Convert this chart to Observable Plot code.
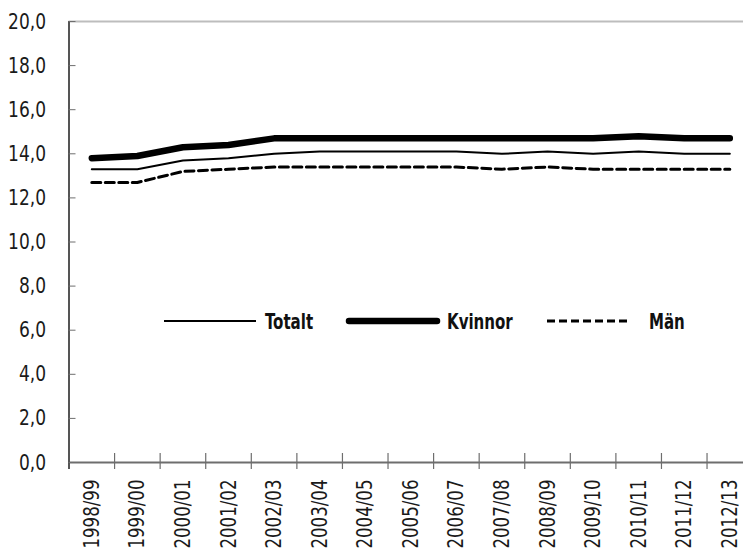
<!DOCTYPE html>
<html>
<head>
<meta charset="utf-8">
<script src="https://cdn.jsdelivr.net/npm/d3@7"></script>
<script src="https://cdn.jsdelivr.net/npm/@observablehq/plot@0.6"></script>
<style>
  html, body { margin: 0; padding: 0; background: #fff; overflow: hidden; }
  #wrap { position: relative; width: 743px; height: 550px; }
  #legend { position: absolute; left: 0; top: 0; pointer-events: none; }
</style>
</head>
<body>
<div id="wrap"></div>
<script>
const years = ["1998/99","1999/00","2000/01","2001/02","2002/03","2003/04","2004/05","2005/06","2006/07","2007/08","2008/09","2009/10","2010/11","2011/12","2012/13"];
const totalt  = [13.3,13.3,13.7,13.8,14.0,14.1,14.1,14.1,14.1,14.0,14.1,14.0,14.1,14.0,14.0];
const kvinnor = [13.8,13.9,14.3,14.4,14.7,14.7,14.7,14.7,14.7,14.7,14.7,14.7,14.8,14.7,14.7];
const man     = [12.7,12.7,13.2,13.3,13.4,13.4,13.4,13.4,13.4,13.3,13.4,13.3,13.3,13.3,13.3];
const seriesNames = ["Totalt", "Kvinnor", "Män"];
const yTicks = [0, 2, 4, 6, 8, 10, 12, 14, 16, 18, 20];

const FONT = "'Liberation Sans Narrow', 'DejaVu Sans Condensed', 'Arial Narrow', sans-serif";
const yMin = 0, yMax = 20;
const xMin = -0.5, xMax = 14.3;

const rows = (vals) => vals.map((v, i) => ({i, v, year: years[i]}));
const boundaries = d3.range(1, years.length).map(i => i - 0.5);
const fmt = d => d.toFixed(1).replace(".", ",");

const styles = {
  Totalt:  {stroke: "#000", strokeWidth: 2},
  Kvinnor: {stroke: "#000", strokeWidth: 6.5},
  "Män":   {stroke: "#000", strokeWidth: 3, strokeDasharray: "9,4.5"}
};

const chart = Plot.plot({
  width: 743,
  height: 550,
  marginLeft: 68.5,
  marginRight: 0,
  marginTop: 21,
  marginBottom: 88,
  style: {fontFamily: FONT, fontSize: "22px", color: "#1a1a1a", background: "#fff"},
  x: {domain: [xMin, xMax], axis: null, label: null},
  y: {domain: [yMin, yMax], axis: null, label: null},
  marks: [
    Plot.ruleY([yMax], {stroke: "#bdbdbd", strokeWidth: 2}),
    Plot.ruleY([yMin], {stroke: "#6e6e6e", strokeWidth: 2}),
    Plot.ruleX(boundaries, {y1: yMin, y2: yMin, insetTop: -9, insetBottom: -7, stroke: "#6e6e6e", strokeWidth: 1.2}),
    Plot.ruleX([xMin], {stroke: "#555", strokeWidth: 2, insetBottom: -7}),
    Plot.axisY({ticks: yTicks, label: null, tickSize: -7, tickPadding: 30, tickFormat: fmt, stroke: "#6e6e6e", fill: "#1a1a1a"}),
    Plot.axisX({ticks: d3.range(years.length), label: null, tickSize: 0, tickPadding: 17, tickRotate: -90, tickFormat: i => years[i], fill: "#1a1a1a"}),
    Plot.line(rows(totalt),  {x: "i", y: "v", ...styles.Totalt, strokeLinejoin: "round"}),
    Plot.line(rows(man),     {x: "i", y: "v", ...styles["Män"]}),
    Plot.line(rows(kvinnor), {x: "i", y: "v", ...styles.Kvinnor, strokeLinejoin: "round", strokeLinecap: "round"})
  ]
});

const wrap = document.getElementById("wrap");
wrap.appendChild(chart);

// condense text glyphs to mimic the narrow typeface of the original
function condense(sel, factor) {
  sel.each(function() {
    const n = this.getComputedTextLength();
    if (n > 0) {
      this.setAttribute("textLength", (n * factor).toFixed(1));
      this.setAttribute("lengthAdjust", "spacingAndGlyphs");
    }
  });
}
const svg = d3.select(chart);
condense(svg.selectAll('g[aria-label="y-axis tick label"] text'), 0.86);
condense(svg.selectAll('g[aria-label="x-axis tick label"] text'), 0.84);

// Legend overlay
const legendItems = [
  {name: seriesNames[0], x1: 164, x2: 256, tx: 265},
  {name: seriesNames[1], x1: 349, x2: 437, tx: 447},
  {name: seriesNames[2], x1: 547, x2: 630, tx: 649}
];
const lg = d3.create("svg")
  .attr("id", "legend")
  .attr("width", 743).attr("height", 550);
const ly = 321;
for (const it of legendItems) {
  const s = styles[it.name];
  lg.append("line")
    .attr("x1", it.x1).attr("x2", it.x2).attr("y1", ly).attr("y2", ly)
    .attr("stroke", s.stroke)
    .attr("stroke-width", s.strokeWidth)
    .attr("stroke-linecap", it.name === "Kvinnor" ? "round" : "butt")
    .attr("stroke-dasharray", it.name === "Män" ? "8,4" : null);
  lg.append("text")
    .attr("x", it.tx).attr("y", ly + 8)
    .attr("font-family", FONT)
    .attr("font-size", 22)
    .attr("font-weight", "bold")
    .attr("fill", "#111")
    .text(it.name);
}
wrap.appendChild(lg.node());
condense(lg.selectAll("text"), 0.76);
</script>
</body>
</html>
